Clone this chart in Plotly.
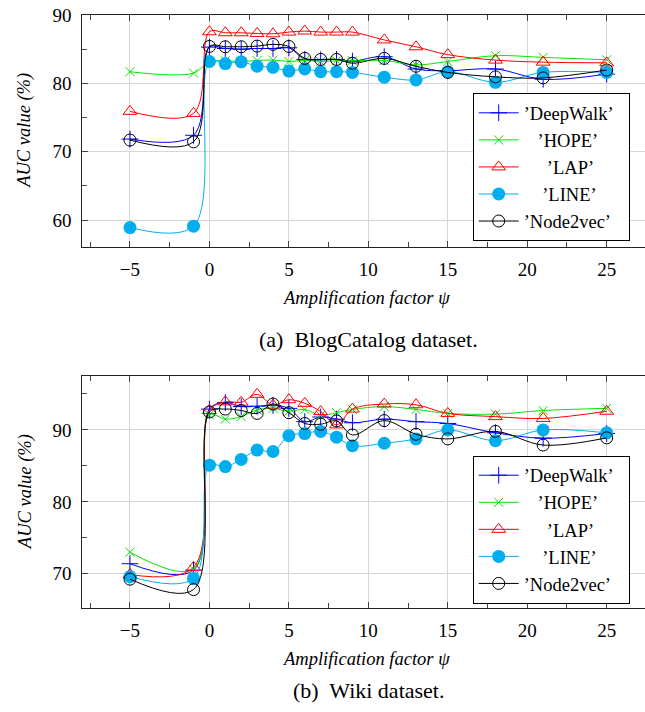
import plotly.graph_objects as go

x_vals = [-5, -1, 0, 1, 2, 3, 4, 5, 6, 7, 8, 9, 11, 13, 15, 18, 21, 25]

methods = ["DeepWalk", "HOPE", "LAP", "LINE", "Node2vec"]

blog_deepwalk = [71.85, 72.4, 85.3, 85.1, 85.0, 85.1, 85.1, 85.2, 83.5, 83.45, 83.5, 83.25, 83.9, 82.1, 81.85, 82.1, 80.6, 81.35]
blog_hope = [81.7, 81.5, 83.2, 83.3, 83.2, 83.35, 83.4, 83.2, 83.35, 83.2, 83.3, 83.3, 83.35, 82.7, 83.2, 84.05, 83.8, 83.45]
blog_lap = [75.9, 75.6, 87.55, 87.4, 87.4, 87.3, 87.25, 87.5, 87.65, 87.5, 87.5, 87.5, 86.35, 85.35, 84.2, 83.4, 83.1, 83.0]
blog_line = [58.9, 59.1, 83.2, 82.9, 83.15, 82.5, 82.35, 81.8, 82.1, 81.7, 81.7, 81.6, 80.9, 80.5, 81.7, 80.15, 81.6, 81.6]
blog_node2vec = [71.7, 71.45, 85.4, 85.35, 85.35, 85.45, 85.7, 85.4, 83.65, 83.5, 83.5, 82.95, 83.65, 82.5, 81.6, 80.95, 80.8, 81.95]

wiki_deepwalk = [71.4, 70.5, 92.9, 93.8, 93.25, 93.3, 93.4, 93.0, 91.15, 91.8, 91.5, 91.0, 91.5, 91.15, 90.9, 89.6, 88.85, 89.5]
wiki_hope = [73.0, 70.65, 92.1, 91.5, 91.85, 92.8, 93.0, 92.6, 92.85, 92.0, 92.4, 92.85, 93.25, 92.85, 92.3, 92.2, 92.7, 93.0]
wiki_lap = [69.9, 70.9, 92.7, 93.9, 93.85, 94.95, 93.45, 94.2, 93.7, 92.55, 90.7, 92.9, 93.6, 93.5, 92.3, 91.85, 91.6, 92.6]
wiki_line = [69.6, 69.35, 85.1, 84.9, 85.9, 87.2, 87.0, 89.2, 89.5, 89.8, 89.0, 87.8, 88.15, 88.75, 90.0, 88.5, 90.0, 89.6]
wiki_node2vec = [69.25, 67.8, 92.5, 92.9, 92.7, 92.3, 93.6, 92.4, 90.9, 90.8, 91.25, 89.3, 91.3, 89.4, 88.75, 89.8, 87.9, 88.9]

blog_series = [blog_deepwalk, blog_hope, blog_lap, blog_line, blog_node2vec]
wiki_series = [wiki_deepwalk, wiki_hope, wiki_lap, wiki_line, wiki_node2vec]

x_title = "<i>Amplification factor ψ</i>"
y_title = "<i>AUC value (%)</i>"
captions = ["(a)  BlogCatalog dataset.", "(b)  Wiki dataset."]

FONT = "Times New Roman, Liberation Serif, serif"
W, H = 645, 712

styles = [
    dict(color="#0000FF", symbol="cross-thin", size=12, filled=False),
    dict(color="#00E600", symbol="x-thin", size=9, filled=False),
    dict(color="#FF0000", symbol="triangle-up-open", size=12, filled=False),
    dict(color="#00AEEF", symbol="circle", size=13, filled=True),
    dict(color="#000000", symbol="circle-open", size=12, filled=False),
]
NB = "\u00a0"
pads = ["", NB * 3, NB * 5, NB * 4, ""]
tail = NB * 2

fig = go.Figure()

for panel, series in enumerate([blog_series, wiki_series]):
    xa = "x" if panel == 0 else "x2"
    ya = "y" if panel == 0 else "y2"
    leg = "legend" if panel == 0 else "legend2"
    for i, (name, vals) in enumerate(zip(methods, series)):
        st = styles[i]
        if st["filled"]:
            marker = dict(symbol=st["symbol"], size=st["size"], color=st["color"], line=dict(width=0))
        else:
            marker = dict(symbol=st["symbol"], size=st["size"], color=st["color"],
                          line=dict(width=1, color=st["color"]))
        fig.add_trace(go.Scatter(
            x=x_vals, y=vals, mode="lines+markers",
            name=pads[i] + "\u2019" + name + "\u2019" + tail,
            line=dict(color=st["color"], width=1, shape="spline", smoothing=1.0),
            marker=marker, xaxis=xa, yaxis=ya, legend=leg,
        ))

# geometry (pixels from top-left)
left_px, right_px = 82.3, 645.0
panels_px = [(15.0, 246.7), (376.0, 608.3)]
yranges = [[56.1, 90.0], [65.2, 97.5]]
xrange_ = [-8.0, 27.41]

def ydom(top, bot):
    return [(H - bot) / H, (H - top) / H]

axis_common = dict(
    showline=True, linecolor="#222222", linewidth=1.2,
    ticks="inside", ticklen=6, tickcolor="#444444", tickwidth=1,
    showgrid=True, gridcolor="#d6d6d6", gridwidth=1,
    zeroline=False, automargin=False,
    tickfont=dict(family=FONT, size=19, color="#000000"),
)

for p in range(2):
    sfx = "" if p == 0 else "2"
    top, bot = panels_px[p]
    fig.layout["xaxis" + sfx] = dict(
        axis_common, domain=[left_px / W, 1.0], range=xrange_, dtick=5, tick0=0,
        mirror="ticks", anchor="y" + sfx, ticklabelstandoff=5,
        minor=dict(dtick=2.5, tick0=0, ticks="inside", ticklen=5, tickcolor="#444444", showgrid=False),
    )
    fig.layout["yaxis" + sfx] = dict(
        axis_common, domain=ydom(top, bot), range=yranges[p], dtick=10, tick0=0,
        mirror=False, anchor="x" + sfx, ticklabelstandoff=6,
        minor=dict(dtick=5, tick0=0, ticks="inside", ticklen=5, tickcolor="#444444", showgrid=False),
    )

legend_common = dict(
    bgcolor="#ffffff", bordercolor="#000000", borderwidth=1,
    font=dict(family=FONT, size=18.5, color="#000000"),
    xanchor="left", yanchor="top", tracegroupgap=0, itemwidth=40,
)
fig.update_layout(
    legend=dict(legend_common, x=472.7 / W, y=(H - 93.3) / H),
    legend2=dict(legend_common, x=472.7 / W, y=(H - 455.7) / H),
)

annotations = []
xc = 366.0 / W
for p in range(2):
    top, bot = panels_px[p]
    annotations.append(dict(text=x_title, x=xc, y=(H - (bot + 51)) / H, xref="paper", yref="paper",
                            showarrow=False, font=dict(family=FONT, size=18.5, color="#000000"),
                            xanchor="center", yanchor="middle"))
    annotations.append(dict(text=y_title, x=25.0 / W, y=(H - (top + bot) / 2) / H, xref="paper", yref="paper",
                            showarrow=False, textangle=-90, font=dict(family=FONT, size=18.5, color="#000000"),
                            xanchor="center", yanchor="middle"))
cap_y = [339.0, 690.0]
for p in range(2):
    annotations.append(dict(text=captions[p], x=368.0 / W, y=(H - cap_y[p]) / H, xref="paper", yref="paper",
                            showarrow=False, font=dict(family=FONT, size=22, color="#000000"),
                            xanchor="center", yanchor="middle"))

fig.update_layout(
    width=W, height=H, margin=dict(l=0, r=0, t=0, b=0),
    paper_bgcolor="#ffffff", plot_bgcolor="#ffffff",
    annotations=annotations, showlegend=True,
)

fig.write_html("out.html", config={"displayModeBar": False},
               post_script="document.body.style.margin='0';document.body.style.overflow='hidden';")
